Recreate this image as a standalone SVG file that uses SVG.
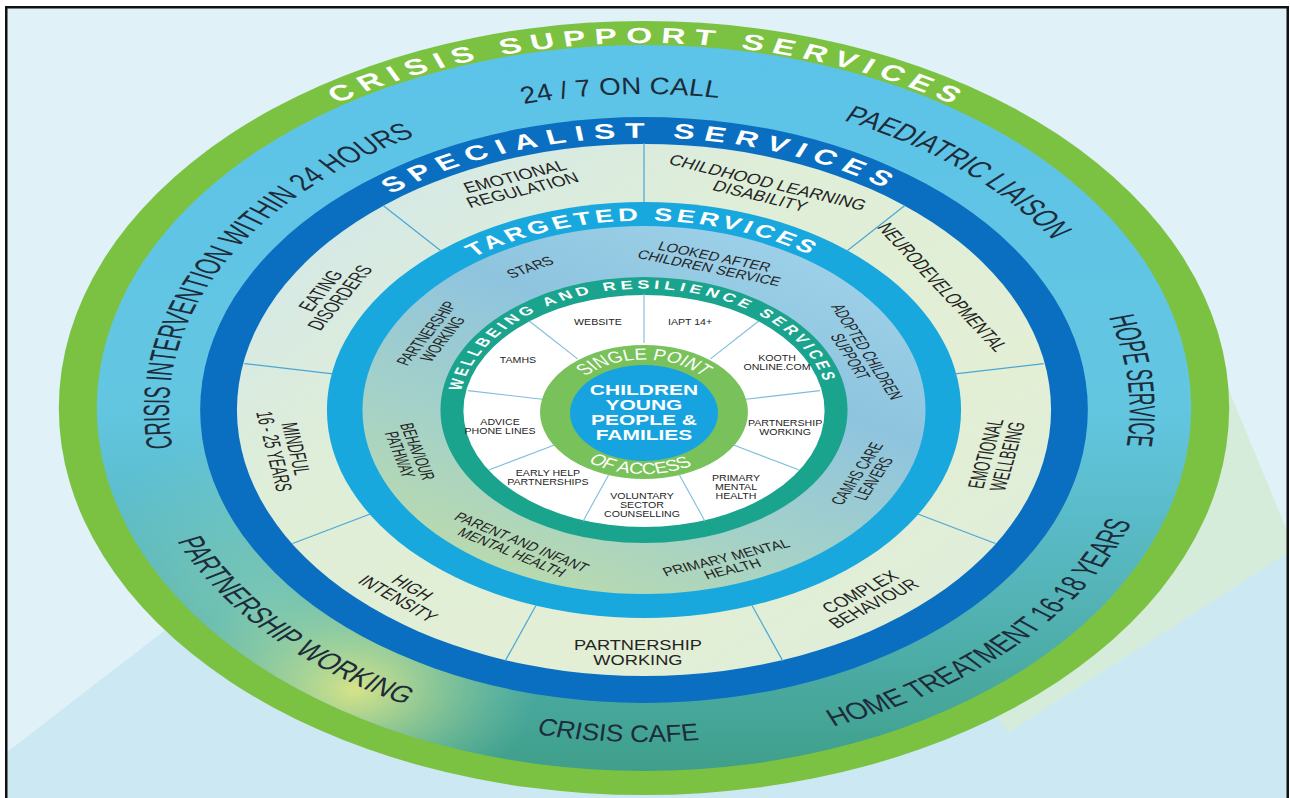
<svg xmlns="http://www.w3.org/2000/svg" width="1290" height="798" viewBox="0 0 1290 798">
<defs>
<style>
text{font-family:"Liberation Sans",Arial,sans-serif}
.ttl{font-weight:bold;fill:#ffffff;text-anchor:middle}
.spoa{font-size:16px;fill:#ffffff;text-anchor:middle}
.cl{font-size:24px;fill:#1d2c3a;text-anchor:middle}
.sl{font-size:15px;fill:#242424;text-anchor:middle}
.tl{font-size:12.5px;fill:#242424;text-anchor:middle}
.wl{font-size:8.5px;fill:#242424;text-anchor:middle}
.ctr{font-size:15px;font-weight:bold;fill:#ffffff;text-anchor:middle}
.dv{stroke:#4ba6d6;stroke-width:1.2;fill:none}
.dw{stroke:#7dbddc;stroke-width:1.1;fill:none}
</style>
<linearGradient id="gCrisis" x1="0" y1="0" x2="0" y2="1">
<stop offset="0" stop-color="#5cc3e9"/>
<stop offset="0.5" stop-color="#63c6e1"/>
<stop offset="0.78" stop-color="#52b2b3"/>
<stop offset="1" stop-color="#3f9f8a"/>
</linearGradient>
<radialGradient id="gYellow" cx="0.5" cy="0.5" r="0.5">
<stop offset="0" stop-color="#ecec84" stop-opacity="0.85"/>
<stop offset="0.45" stop-color="#c8e28f" stop-opacity="0.5"/>
<stop offset="1" stop-color="#9fd4a0" stop-opacity="0"/>
</radialGradient>
<radialGradient id="gGreen" cx="0.5" cy="0.5" r="0.5">
<stop offset="0" stop-color="#92d2b2" stop-opacity="0.6"/>
<stop offset="1" stop-color="#92d2b2" stop-opacity="0"/>
</radialGradient>
<linearGradient id="gPale" x1="0" y1="0" x2="1" y2="1">
<stop offset="0" stop-color="#cfe6ee"/>
<stop offset="0.35" stop-color="#dfeed8"/>
<stop offset="0.7" stop-color="#e3efd5"/>
<stop offset="1" stop-color="#dcedde"/>
</linearGradient>
<linearGradient id="gTarg" x1="0.8" y1="0" x2="0.2" y2="1">
<stop offset="0" stop-color="#9fd3ea"/>
<stop offset="0.35" stop-color="#8fc4df"/>
<stop offset="0.7" stop-color="#a6d2c6"/>
<stop offset="1" stop-color="#bedca8"/>
</linearGradient>
<clipPath id="clipCrisis"><ellipse cx="0" cy="-2" rx="360" ry="363"/></clipPath>
<path id="tpCSS" d="M -343.8 -128.5 A 367 367 0 0 1 345.9 -122.5"/>
<path id="tpSS" d="M -256.9 -91.0 A 272.5 272.5 0 0 1 255.2 -95.4"/>
<path id="tpTS" d="M -178.4 -63.9 A 189.5 189.5 0 0 1 177.7 -65.7"/>
<path id="tpWR" d="M -122.0 -0.6 A 122 122 0 0 1 121.7 -7.9"/>
<path id="tpSP" d="M -51.7 -7.1 A 52.5 52.5 0 0 1 51.7 -7.1"/>
<path id="tpOA" d="M -61.5 9.9 A 62 62 0 0 0 60.5 15.6"/>
<path id="tpOnCall" d="M -214.7 -231.9 A 316 316 0 0 1 191.3 -251.5"/>
<path id="tpPaed" d="M 5.5 -318.0 A 318 318 0 0 1 314.1 -49.7"/>
<path id="tpHope" d="M 225.1 -226.7 A 319.5 319.5 0 0 1 262.4 182.3"/>
<path id="tpHome" d="M 6.5 339.9 A 340 340 0 0 0 339.9 -6.5"/>
<path id="tpCafe" d="M -226.4 242.8 A 332 332 0 0 0 199.8 265.1"/>
<path id="tpPW" d="M -333.7 14.6 A 334 334 0 0 0 -43.6 331.1"/>
<path id="tpCI" d="M -287.9 121.6 A 312.5 312.5 0 0 1 -69.8 -304.6"/>
</defs>

<rect width="1290" height="798" fill="#ffffff"/>
<g id="background">
<rect x="6" y="8" width="1282" height="790" fill="#e0f1f8"/>
<polygon points="6,753 230,580 1000,580 1288,553 1288,798 6,798" fill="#cbe8f3"/>
<polygon points="1180,272 1288,533 1288,553 1008,733 950,640" fill="#d5ecdb"/>
</g>

<g id="diagram" transform="translate(644 410) scale(1.52 1)">
<g id="node-crisis-support-services">
<ellipse cx="0" cy="-2" rx="385" ry="387" fill="#7cc242"/>
<ellipse cx="0" cy="-2" rx="360" ry="363" fill="url(#gCrisis)"/>
<ellipse cx="-250" cy="190" rx="130" ry="170" fill="url(#gGreen)" clip-path="url(#clipCrisis)"/>
<ellipse cx="-190" cy="280" rx="120" ry="115" fill="url(#gYellow)" clip-path="url(#clipCrisis)"/>
<text class="ttl" style="font-size:22px;letter-spacing:5.7px"><textPath href="#tpCSS" startOffset="50%">CRISIS SUPPORT SERVICES</textPath></text>
</g>
<g id="node-specialist-services">
<ellipse cx="0" cy="0" rx="292" ry="293" fill="#0a6fc0"/>
<ellipse cx="0" cy="0" rx="267.8" ry="266" fill="url(#gPale)"/>
<text class="ttl" style="font-size:21px;letter-spacing:6.2px"><textPath href="#tpSS" startOffset="50%">SPECIALIST SERVICES</textPath></text>
</g>
<g id="node-targeted-services">
<ellipse cx="0" cy="0" rx="208.6" ry="208" fill="#19a8de"/>
<ellipse cx="0" cy="0" rx="185.2" ry="184" fill="url(#gTarg)"/>
<text class="ttl" style="font-size:18px;letter-spacing:2.6px"><textPath href="#tpTS" startOffset="50%">TARGETED SERVICES</textPath></text>
</g>
<g id="node-wellbeing-services">
<ellipse cx="0" cy="0" rx="133.9" ry="133" fill="#1aa38d"/>
<ellipse cx="0" cy="1" rx="118.8" ry="116" fill="#ffffff"/>
<text class="ttl" style="font-size:12px;letter-spacing:2.9px"><textPath href="#tpWR" startOffset="50%">WELLBEING AND RESILIENCE SERVICES</textPath></text>
</g>
<g id="node-single-point-of-access">
<ellipse cx="0" cy="2" rx="68.4" ry="67" fill="#79c25b"/>
<text class="spoa"><textPath href="#tpSP" startOffset="50%" textLength="86" lengthAdjust="spacingAndGlyphs">SINGLE POINT</textPath></text>
<text class="spoa"><textPath href="#tpOA" startOffset="50%" textLength="73" lengthAdjust="spacingAndGlyphs">OF ACCESS</textPath></text>
</g>
<g id="node-children-young-people-families">
<ellipse cx="0" cy="3" rx="48.7" ry="48" fill="#16a3df"/>
<text class="ctr" transform="scale(0.92 1)"><tspan x="0" y="-15">CHILDREN</tspan><tspan x="0" y="0">YOUNG</tspan><tspan x="0" y="15">PEOPLE &amp;</tspan><tspan x="0" y="30">FAMILIES</tspan></text>
</g>

<g id="connectors">
<g class="dv">
<line x1="0" y1="-208" x2="0" y2="-267" vector-effect="non-scaling-stroke"/>
<line x1="133.7" y1="-159.3" x2="171.6" y2="-204.5" vector-effect="non-scaling-stroke"/>
<line x1="204.8" y1="-36.1" x2="262.9" y2="-46.4" vector-effect="non-scaling-stroke"/>
<line x1="180.1" y1="104" x2="231.2" y2="133.5" vector-effect="non-scaling-stroke"/>
<line x1="71.1" y1="195.5" x2="91.3" y2="250.9" vector-effect="non-scaling-stroke"/>
<line x1="-71.1" y1="195.5" x2="-91.3" y2="250.9" vector-effect="non-scaling-stroke"/>
<line x1="-180.1" y1="104" x2="-231.2" y2="133.5" vector-effect="non-scaling-stroke"/>
<line x1="-204.8" y1="-36.1" x2="-262.9" y2="-46.4" vector-effect="non-scaling-stroke"/>
<line x1="-133.7" y1="-159.3" x2="-171.6" y2="-204.5" vector-effect="non-scaling-stroke"/>
</g>
<g class="dw">
<line x1="0" y1="-67" x2="0" y2="-116.5" vector-effect="non-scaling-stroke"/>
<line x1="43.7" y1="-51.1" x2="75.5" y2="-89" vector-effect="non-scaling-stroke"/>
<line x1="67" y1="-10.8" x2="115.7" y2="-19.4" vector-effect="non-scaling-stroke"/>
<line x1="58.9" y1="35" x2="101.8" y2="59.75" vector-effect="non-scaling-stroke"/>
<line x1="23.3" y1="64.9" x2="40.2" y2="111.4" vector-effect="non-scaling-stroke"/>
<line x1="-23.3" y1="64.9" x2="-40.2" y2="111.4" vector-effect="non-scaling-stroke"/>
<line x1="-58.9" y1="35" x2="-101.8" y2="59.75" vector-effect="non-scaling-stroke"/>
<line x1="-67" y1="-10.8" x2="-115.7" y2="-19.4" vector-effect="non-scaling-stroke"/>
<line x1="-43.7" y1="-51.1" x2="-75.5" y2="-89" vector-effect="non-scaling-stroke"/>
</g>
</g>

<g id="crisis-labels">
<g id="node-24-7-on-call"><text class="cl"><textPath href="#tpOnCall" startOffset="50%" textLength="129" lengthAdjust="spacingAndGlyphs">24 / 7 ON CALL</textPath></text></g>
<g id="node-paediatric-liaison"><text class="cl"><textPath href="#tpPaed" startOffset="50%" textLength="185" lengthAdjust="spacingAndGlyphs">PAEDIATRIC LIAISON</textPath></text></g>
<g id="node-hope-service"><text class="cl"><textPath href="#tpHope" startOffset="50%" textLength="130" lengthAdjust="spacingAndGlyphs">HOPE SERVICE</textPath></text></g>
<g id="node-home-treatment"><text class="cl"><textPath href="#tpHome" startOffset="50%" textLength="292" lengthAdjust="spacingAndGlyphs">HOME TREATMENT 16-18 YEARS</textPath></text></g>
<g id="node-crisis-cafe"><text class="cl"><textPath href="#tpCafe" startOffset="50%" textLength="108" lengthAdjust="spacingAndGlyphs">CRISIS CAFE</textPath></text></g>
<g id="node-partnership-working-crisis"><text class="cl"><textPath href="#tpPW" startOffset="50%" textLength="226" lengthAdjust="spacingAndGlyphs">PARTNERSHIP WORKING</textPath></text></g>
<g id="node-crisis-intervention"><text class="cl"><textPath href="#tpCI" startOffset="50%" textLength="372" lengthAdjust="spacingAndGlyphs">CRISIS INTERVENTION WITHIN 24 HOURS</textPath></text></g>
</g>

<g id="specialist-labels">
<g id="node-emotional-regulation"><text class="sl" transform="translate(-82.5 -227) rotate(-20) scale(0.8 1)"><tspan x="0" y="-1.9">EMOTIONAL</tspan><tspan x="0" y="12.6">REGULATION</tspan></text></g>
<g id="node-childhood-learning-disability"><text class="sl" transform="translate(79 -221) rotate(20) scale(0.8 1)"><tspan x="0" y="-1.9">CHILDHOOD LEARNING</tspan><tspan x="0" y="12.6">DISABILITY</tspan></text></g>
<g id="node-neurodevelopmental"><text class="sl" transform="translate(196.7 -122.9) rotate(58) scale(0.8 1)"><tspan x="0" y="5.4">NEURODEVELOPMENTAL</tspan></text></g>
<g id="node-emotional-wellbeing"><text class="sl" transform="translate(231.7 45) rotate(-79) scale(0.8 1)"><tspan x="0" y="-1.9">EMOTIONAL</tspan><tspan x="0" y="12.6">WELLBEING</tspan></text></g>
<g id="node-complex-behaviour"><text class="sl" transform="translate(146.5 187.5) rotate(-38) scale(0.8 1)"><tspan x="0" y="-1.9">COMPLEX</tspan><tspan x="0" y="12.6">BEHAVIOUR</tspan></text></g>
<g id="node-partnership-working-specialist"><text class="sl" transform="translate(-4 242) scale(0.8 1)"><tspan x="0" y="-1.9">PARTNERSHIP</tspan><tspan x="0" y="12.6">WORKING</tspan></text></g>
<g id="node-high-intensity"><text class="sl" transform="translate(-157 183) rotate(40.7) scale(0.8 1)"><tspan x="0" y="-1.9">HIGH</tspan><tspan x="0" y="12.6">INTENSITY</tspan></text></g>
<g id="node-mindful"><text class="sl" transform="translate(-236 40) rotate(80.4) scale(0.8 1)"><tspan x="0" y="-1.9">MINDFUL</tspan><tspan x="0" y="12.6">16 - 25 YEARS</tspan></text></g>
<g id="node-eating-disorders"><text class="sl" transform="translate(-206.6 -116) rotate(-60.7) scale(0.8 1)"><tspan x="0" y="-1.9">EATING</tspan><tspan x="0" y="12.6">DISORDERS</tspan></text></g>
</g>

<g id="targeted-labels">
<g id="node-stars"><text class="tl" transform="translate(-75 -143) rotate(-28) scale(0.8 1)"><tspan x="0" y="4.5">STARS</tspan></text></g>
<g id="node-looked-after"><text class="tl" transform="translate(44.7 -148) rotate(17) scale(0.8 1)"><tspan x="0" y="-1.5">LOOKED AFTER</tspan><tspan x="0" y="10.5">CHILDREN SERVICE</tspan></text></g>
<g id="node-adopted-children"><text class="tl" transform="translate(141.4 -56) rotate(67) scale(0.8 1)"><tspan x="0" y="-1.5">ADOPTED CHILDREN</tspan><tspan x="0" y="10.5">SUPPORT</tspan></text></g>
<g id="node-camhs-care-leavers"><text class="tl" transform="translate(145.4 66) rotate(-66) scale(0.8 1)"><tspan x="0" y="-1.5">CAMHS CARE</tspan><tspan x="0" y="10.5">LEAVERS</tspan></text></g>
<g id="node-primary-mental-health-targeted"><text class="tl" transform="translate(56 153) rotate(-20) scale(0.8 1)"><tspan x="0" y="-1.5">PRIMARY MENTAL</tspan><tspan x="0" y="10.5">HEALTH</tspan></text></g>
<g id="node-parent-infant"><text class="tl" transform="translate(-83.6 137) rotate(32) scale(0.8 1)"><tspan x="0" y="-1.5">PARENT AND INFANT</tspan><tspan x="0" y="10.5">MENTAL HEALTH</tspan></text></g>
<g id="node-behaviour-pathway"><text class="tl" transform="translate(-154.6 43) rotate(75) scale(0.8 1)"><tspan x="0" y="-1.5">BEHAVIOUR</tspan><tspan x="0" y="10.5">PATHWAY</tspan></text></g>
<g id="node-partnership-working-targeted"><text class="tl" transform="translate(-138 -74) rotate(-62) scale(0.8 1)"><tspan x="0" y="-1.5">PARTNERSHIP</tspan><tspan x="0" y="10.5">WORKING</tspan></text></g>
</g>

<g id="wellbeing-labels">
<g id="node-website"><text class="wl" transform="translate(-30.3 -88) scale(0.82 1)"><tspan x="0" y="3">WEBSITE</tspan></text></g>
<g id="node-iapt"><text class="wl" transform="translate(30.3 -88) scale(0.82 1)"><tspan x="0" y="3">IAPT 14+</tspan></text></g>
<g id="node-kooth"><text class="wl" transform="translate(87.5 -48) scale(0.82 1)"><tspan x="0" y="-1.5">KOOTH</tspan><tspan x="0" y="7.5">ONLINE.COM</tspan></text></g>
<g id="node-partnership-working-wellbeing"><text class="wl" transform="translate(92.8 17) scale(0.82 1)"><tspan x="0" y="-1.5">PARTNERSHIP</tspan><tspan x="0" y="7.5">WORKING</tspan></text></g>
<g id="node-primary-mental-health-wellbeing"><text class="wl" transform="translate(60.5 77) scale(0.82 1)"><tspan x="0" y="-6">PRIMARY</tspan><tspan x="0" y="3">MENTAL</tspan><tspan x="0" y="12">HEALTH</tspan></text></g>
<g id="node-voluntary-sector"><text class="wl" transform="translate(-1.3 95) scale(0.82 1)"><tspan x="0" y="-6">VOLUNTARY</tspan><tspan x="0" y="3">SECTOR</tspan><tspan x="0" y="12">COUNSELLING</tspan></text></g>
<g id="node-early-help"><text class="wl" transform="translate(-63.2 67.5) scale(0.82 1)"><tspan x="0" y="-1.5">EARLY HELP</tspan><tspan x="0" y="7.5">PARTNERSHIPS</tspan></text></g>
<g id="node-advice-phone-lines"><text class="wl" transform="translate(-94.7 16) scale(0.82 1)"><tspan x="0" y="-1.5">ADVICE</tspan><tspan x="0" y="7.5">PHONE LINES</tspan></text></g>
<g id="node-tamhs"><text class="wl" transform="translate(-82.9 -50) scale(0.82 1)"><tspan x="0" y="3">TAMHS</tspan></text></g>
</g>
</g>

<rect x="6.25" y="7.25" width="1281.5" height="800" fill="none" stroke="#111111" stroke-width="2.5"/>
</svg>
